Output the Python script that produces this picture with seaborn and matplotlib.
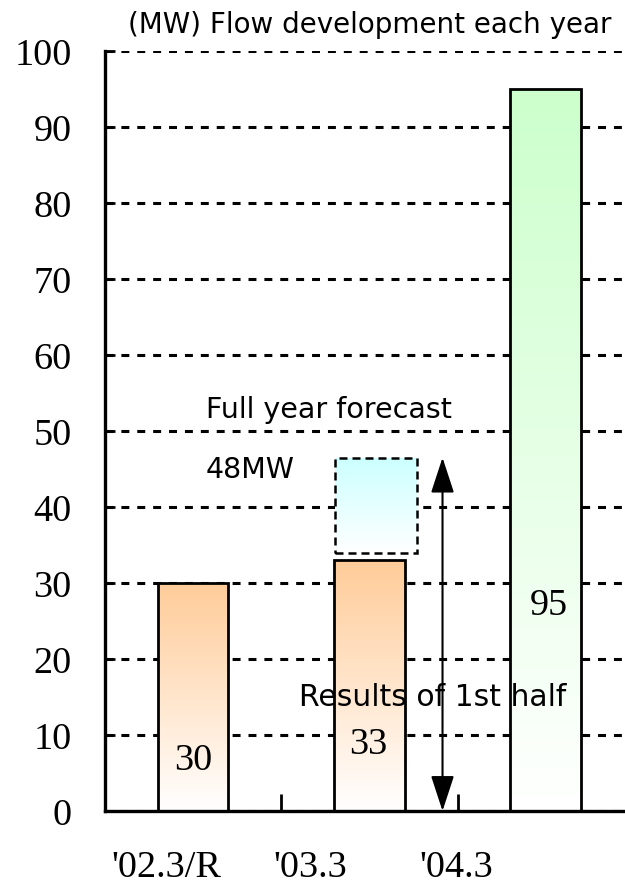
import numpy as np
import pandas as pd
import matplotlib
matplotlib.use("Agg")
import matplotlib.pyplot as plt
from matplotlib.colors import LinearSegmentedColormap
from matplotlib.patches import FancyArrowPatch
import seaborn as sns

# Yearly flow development (MW)
categories = ["'02.3/R", "'03.3", "'04.3"]
values = [30, 33, 95]
top_colors = ["#FFCC99", "#FFCC99", "#CCFFCC"]
forecast_low = 34
forecast_high = 46.5
forecast_label = "48MW"
y_ticks = [0, 10, 20, 30, 40, 50, 60, 70, 80, 90, 100]

sns.set_theme(style="white")
plt.rcParams["font.family"] = ["DejaVu Sans"]
plt.rcParams["text.color"] = "black"
plt.rcParams["xtick.color"] = "black"
plt.rcParams["ytick.color"] = "black"

SERIF = "Liberation Serif"
SANS = "DejaVu Sans"
SERIF_SIZE = 27.5
SANS_SIZE = 20.5

fig = plt.figure(figsize=(6.25, 8.87), dpi=100)
ax = fig.add_axes([105 / 625, 75 / 887, 528.75 / 625, 760 / 887])

df = pd.DataFrame({"period": categories, "mw": values})
sns.barplot(data=df, x="period", y="mw", order=categories, width=0.4,
            color="white", edgecolor="black", linewidth=2.0, ax=ax, zorder=3)


def gradient_fill(patch, top_color, zorder):
    x0, y0 = patch.get_x(), patch.get_y()
    w, h = patch.get_width(), patch.get_height()
    cmap = LinearSegmentedColormap.from_list("g", ["#FFFFFF", top_color])
    grad = np.linspace(0, 1, 256).reshape(-1, 1)
    im = ax.imshow(grad, cmap=cmap, aspect="auto", origin="lower",
                   extent=[x0, x0 + w, y0, y0 + h], zorder=zorder)
    im.set_clip_path(patch)


for patch, col in zip(ax.patches, top_colors):
    patch.set_facecolor("none")
    patch.set_zorder(4)
    gradient_fill(patch, col, 3)

# Full-year forecast box above the first-half result
box = ax.bar([1.035], [forecast_high - forecast_low], bottom=[forecast_low],
             width=0.465, facecolor="none", edgecolor="black", linewidth=1.8,
             linestyle=(0, (3.2, 2.0)), zorder=4)[0]
gradient_fill(box, "#CCFFFF", 3)
ax.set_xlim(-0.5, 2.5)
ax.set_ylim(0, 100)

# Double-headed arrow spanning the full-year forecast
arrow = FancyArrowPatch((1.415, 0), (1.415, forecast_high),
                        arrowstyle="<|-|>,head_length=1.1,head_width=0.36",
                        mutation_scale=20, color="black", linewidth=1.5,
                        shrinkA=0, shrinkB=0, zorder=5)
ax.add_patch(arrow)

# Grid and axes styling
ax.set_axisbelow(True)
ax.yaxis.grid(True, color="black", linewidth=2.2, linestyle=(0, (2.6, 2.6)))
ax.xaxis.grid(False)
for side in ("top", "right"):
    ax.spines[side].set_visible(False)
for side in ("left", "bottom"):
    ax.spines[side].set_color("black")
    ax.spines[side].set_linewidth(2.4)
    ax.spines[side].set_zorder(6)

ax.set_yticks(y_ticks)
ax.set_yticklabels([str(t) for t in y_ticks], fontfamily=SERIF,
                   fontsize=SERIF_SIZE, color="black")
ax.tick_params(axis="y", direction="in", length=7, width=2, color="black",
               pad=24, left=True)

label_pos = [-0.15, 0.667, 1.495]
ax.set_xticks(label_pos)
ax.set_xticklabels(categories, fontfamily=SERIF, fontsize=SERIF_SIZE,
                   color="black")
ax.tick_params(axis="x", which="major", length=0, pad=28)
ax.set_xticks([0.5, 1.5], minor=True)
ax.tick_params(axis="x", which="minor", direction="in", length=12, width=2,
               color="black", bottom=True)
ax.set_xlabel("")
ax.set_ylabel("")

# Value labels
label_y = [6.8, 8.8, 27.1]
label_x = [0.0, 0.996, 2.017]
for xv, yv, v in zip(label_x, label_y, values):
    ax.text(xv, yv, str(v), ha="center", va="center", fontfamily=SERIF,
            fontsize=SERIF_SIZE, color="black", zorder=7)

ax.text(0.071, 52.9, "Full year forecast", ha="left", va="center",
        fontfamily=SANS, fontsize=SANS_SIZE, color="black", zorder=7)
ax.text(0.071, 45.0, forecast_label, ha="left", va="center",
        fontfamily=SANS, fontsize=SANS_SIZE, color="black", zorder=7)
ax.text(0.599, 15.1, "Results of 1st half", ha="left", va="center",
        fontfamily=SANS, fontsize=21.5, color="black", zorder=7)

fig.text(370 / 625, 1 - 25 / 887, "(MW) Flow development each year",
         ha="center", va="center", fontfamily=SANS, fontsize=20,
         color="black")

fig.savefig("out.png", dpi=100)
